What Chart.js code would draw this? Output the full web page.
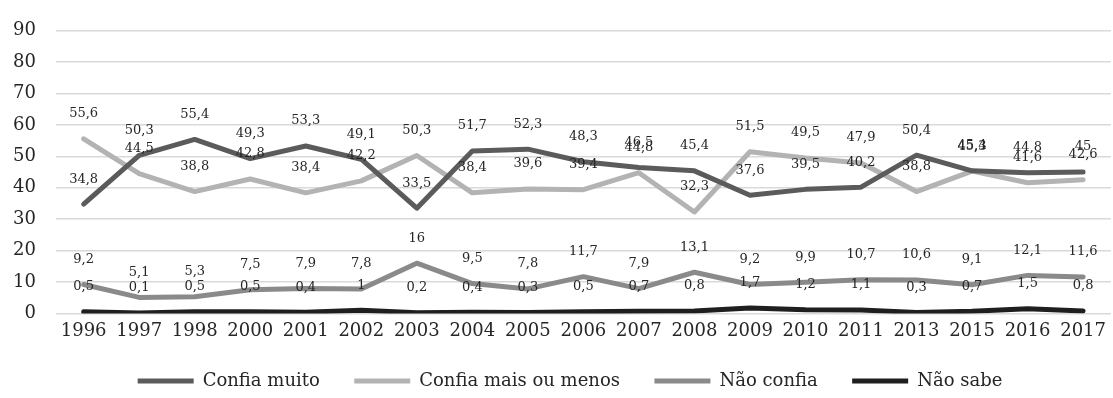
<!DOCTYPE html>
<html>
<head>
<meta charset="utf-8">
<script src="https://cdn.jsdelivr.net/npm/chart.js@4"></script>
<style>
  html, body { margin: 0; padding: 0; background: #fff; }
  #wrap { width: 1113px; height: 398px; }
</style>
</head>
<body>
<div id="wrap"><canvas id="myChart"></canvas></div>
<script>
const years = ['1996','1997','1998','2000','2001','2002','2003','2004','2005','2006','2007','2008','2009','2010','2011','2013','2015','2016','2017'];
const confiaMuito = [34.8, 50.3, 55.4, 49.3, 53.3, 49.1, 33.5, 51.7, 52.3, 48.3, 46.5, 45.4, 37.6, 39.5, 40.2, 50.4, 45.4, 44.8, 45];
const confiaMaisOuMenos = [55.6, 44.5, 38.8, 42.8, 38.4, 42.2, 50.3, 38.4, 39.6, 39.4, 44.8, 32.3, 51.5, 49.5, 47.9, 38.8, 45.3, 41.6, 42.6];
const naoConfia = [9.2, 5.1, 5.3, 7.5, 7.9, 7.8, 16, 9.5, 7.8, 11.7, 7.9, 13.1, 9.2, 9.9, 10.7, 10.6, 9.1, 12.1, 11.6];
const naoSabe = [0.5, 0.1, 0.5, 0.5, 0.4, 1, 0.2, 0.4, 0.3, 0.5, 0.7, 0.8, 1.7, 1.2, 1.1, 0.3, 0.7, 1.5, 0.8];
const yTicks = [0, 10, 20, 30, 40, 50, 60, 70, 80, 90];

const FONT = "'DejaVu Serif', serif";

// value labels above each point (no datalabels plugin available offline)
const valueLabels = {
  id: 'valueLabels',
  afterDatasetsDraw(chart) {
    const ctx = chart.ctx;
    ctx.save();
    ctx.font = "13px " + FONT;
    ctx.fillStyle = '#262626';
    ctx.textAlign = 'center';
    ctx.textBaseline = 'middle';
    chart.data.datasets.forEach(function(ds, i) {
      const meta = chart.getDatasetMeta(i);
      meta.data.forEach(function(pt, j) {
        const txt = String(ds.data[j]).replace('.', ',');
        ctx.fillText(txt, pt.x, pt.y - 25);
      });
    });
    ctx.restore();
  }
};

// nudge legend a bit to the right, like the original
const legendShift = {
  id: 'legendShift',
  afterLayout(chart) {
    if (chart.legend) {
      chart.legend.left += 17;
      chart.legend.right += 17;
    }
  }
};

function line(label, data, color) {
  return {
    label: label,
    data: data,
    borderColor: color,
    backgroundColor: color,
    borderWidth: 5,
    borderCapStyle: 'round',
    borderJoinStyle: 'round',
    pointRadius: 0,
    tension: 0
  };
}

const data = {
  labels: years,
  datasets: [
    line('Confia muito', confiaMuito, '#5b5b5b'),
    line('Confia mais ou menos', confiaMaisOuMenos, '#b3b3b3'),
    line('Não confia', naoConfia, '#8a8a8a'),
    line('Não sabe', naoSabe, '#1f1f1f')
  ]
};

const config = {
  type: 'line',
  data: data,
  options: {
    responsive: true,
    maintainAspectRatio: false,
    animation: false,
    layout: { padding: { top: 7, left: -7, right: 0, bottom: -2 } },
    scales: {
      x: {
        offset: true,
        grid: { display: false, drawTicks: false },
        border: { display: false },
        ticks: { font: { family: FONT, size: 18 }, color: '#262626', padding: 7, maxRotation: 0, autoSkip: false }
      },
      y: {
        min: 0,
        max: 90,
        afterBuildTicks(axis) { axis.ticks = yTicks.map(v => ({ value: v })); },
        grid: { color: '#d9d9d9', lineWidth: 1.5, drawTicks: false },
        border: { display: false },
        ticks: { font: { family: FONT, size: 18 }, color: '#262626', padding: 20 }
      }
    },
    plugins: {
      legend: {
        position: 'bottom',
        labels: {
          usePointStyle: true,
          pointStyle: 'line',
          pointStyleWidth: 56,
          font: { family: FONT, size: 18 },
          color: '#262626',
          padding: 23,
          generateLabels(chart) {
            const items = Chart.defaults.plugins.legend.labels.generateLabels(chart);
            items.forEach(function(it, i) {
              if (i < items.length - 1) it.text = it.text + '  ';
            });
            return items;
          }
        }
      },
      tooltip: { enabled: false }
    }
  },
  plugins: [valueLabels, legendShift]
};

const myChart = new Chart(document.getElementById('myChart'), config);
</script>
</body>
</html>
